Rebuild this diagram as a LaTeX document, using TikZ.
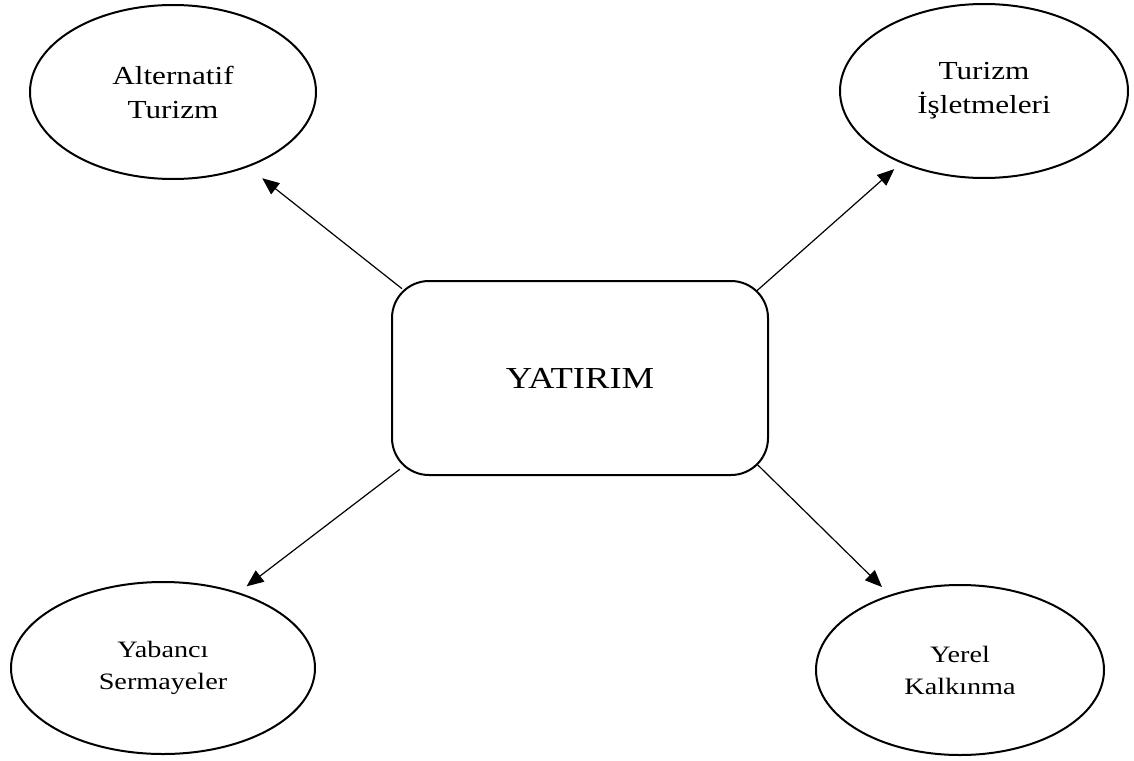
\documentclass[tikz,border=0pt]{standalone}
\usepackage{fontspec}
\setmainfont{Liberation Serif}[FakeStretch=1.2]
\usetikzlibrary{positioning,arrows.meta,shapes.geometric}

\begin{document}
\begin{tikzpicture}[x=1pt, y=-1pt, on grid, thin, >={Triangle[length=17pt,width=14pt]},
    oval/.style = {draw, ellipse, line width=2pt, inner sep=0pt, align=center},
    big/.style = {draw, rectangle, rounded corners=37pt, line width=2pt, minimum width=376pt, minimum height=194pt, font=\fontsize{30.5}{36}\selectfont},
    upper/.style = {font=\fontsize{26}{34}\selectfont},
    lower/.style = {font=\fontsize{23.5}{32}\selectfont},
    link/.style = {->, line width=1.2pt}]
                \useasboundingbox (0,0) rectangle (1134,760);
                \node[big] (yat) at (580,378) {YATIRIM};
                \node[oval, upper, minimum width=286pt, minimum height=174pt] (alt) [above left=286pt and 407pt of yat] {Alternatif\\Turizm};
                \node[oval, upper, minimum width=288pt, minimum height=174pt] (isl) [above right=287pt and 404pt of yat] {Turizm\\İşletmeleri};
                \node[oval, lower, minimum width=304pt, minimum height=172pt] (yab) [below left=290pt and 417pt of yat] {Yabancı\\Sermayeler};
                \node[oval, lower, minimum width=288pt, minimum height=170pt] (yer) [below right=292pt and 380pt of yat] {Yerel\\Kalkınma};
                \draw[link, shorten <=-14pt, shorten >=18pt] (yat.north west) -- (alt.-45);
                \draw[link, shorten <=-16pt, shorten >=9pt] (yat.north east) -- (isl.-139);
                \draw[link, shorten <=-11pt, shorten >=10pt] (yat.south west) -- (yab.45);
                \draw[link, shorten <=-16pt, shorten >=11pt] (yat.south east) -- (yer.133);
            \end{tikzpicture}
\end{document}
